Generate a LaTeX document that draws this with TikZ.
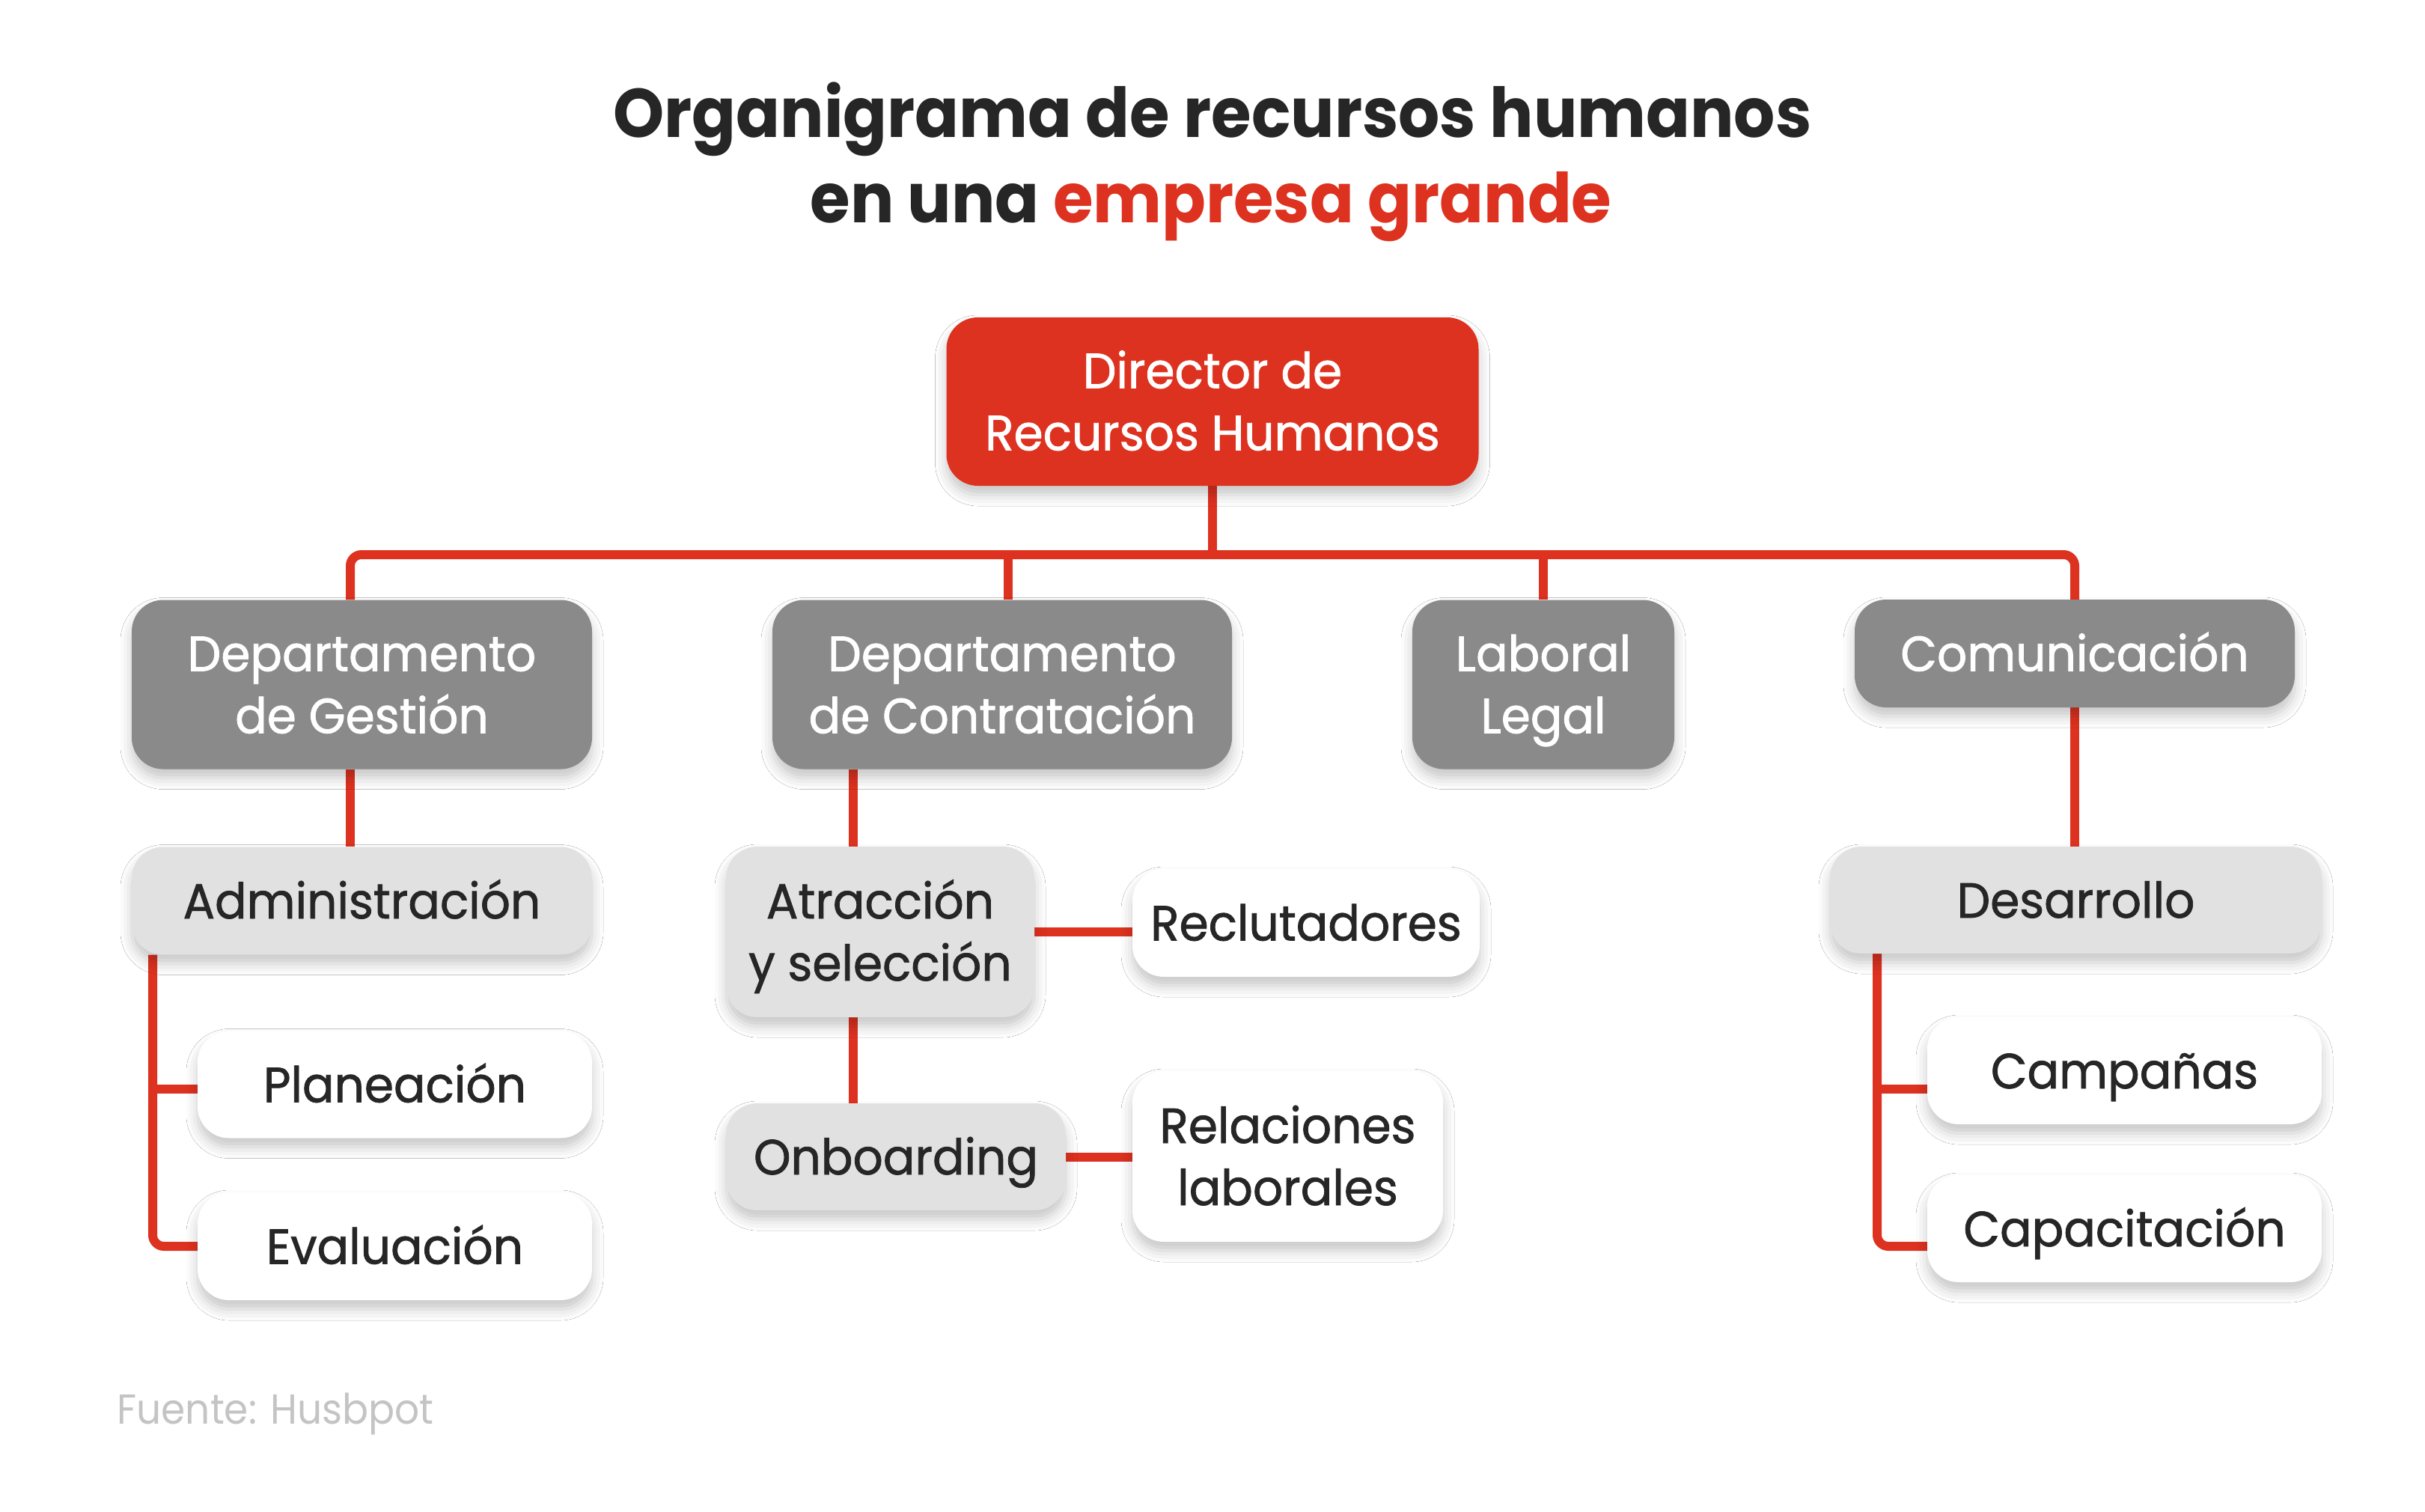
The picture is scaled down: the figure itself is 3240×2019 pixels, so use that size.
\documentclass[tikz,border=0pt]{standalone}
\usepackage{fontspec}
\setmainfont{Poppins}
\newfontfamily\nodefont{Poppins}[FakeStretch=0.955, FakeBold=1.2]
\newfontfamily\titlefont{Poppins}[FakeStretch=0.943]
\newfontfamily\footfont{Poppins}[FakeStretch=0.925]
\usetikzlibrary{shadows.blur,calc,backgrounds}
\definecolor{hr}{HTML}{DE3220}
\definecolor{dgray}{HTML}{8A8A8A}
\definecolor{lgray}{HTML}{E1E1E1}
\definecolor{ink}{HTML}{262626}
\definecolor{foot}{HTML}{C4C4C4}
\definecolor{shblue}{HTML}{7F8FBF}
\newcommand{\twol}[2]{\begin{tabular}[b]{@{}c@{}}#1\\#2\end{tabular}}
\begin{document}
\begin{tikzpicture}[x=1pt,y=-1pt,
  box/.style={rounded corners=42pt, inner sep=0pt,
    font=\nodefont\fontsize{66}{83}\selectfont, text height=47pt, text depth=0pt,
    blur shadow={shadow xshift=0pt, shadow yshift=-12pt, shadow blur radius=15pt, shadow opacity=22, fill=shblue}},
  two/.style={text height=130pt, text depth=0pt},
  sz/.style 2 args={minimum width=#1pt, minimum height=#2pt},
  redbox/.style={box, fill=hr, text=white},
  darkbox/.style={box, fill=dgray, text=white},
  lightbox/.style={box, fill=lgray, text=ink},
  whitebox/.style={box, fill=white, text=ink},
  conn/.style={draw=hr, line width=12pt},
]
\useasboundingbox (0,0) rectangle (3240,2019);

% title
\node[anchor=base, text=ink, font=\titlefont\fontsize{92}{114}\selectfont\bfseries] (t1) at (1620,183) {Organigrama de recursos humanos};
\node[anchor=base, text=ink, font=\titlefont\fontsize{92}{114}\selectfont\bfseries] (t2) at (1618,297) {en una \textcolor{hr}{empresa grande}};

% nodes
\node[redbox, two, sz={711}{225}] (dir) at (1620,536.5) {\twol{Director de}{Recursos Humanos}};
\node[darkbox, two, sz={615}{226}] (gest) at (483.5,914.5) {\twol{Departamento}{de Gestión}};
\node[darkbox, two, sz={614}{226}] (contr) at (1339,914.5) {\twol{Departamento}{de Contratación}};
\node[darkbox, two, sz={350}{226}] (lab) at (2062,914.5) {\twol{Laboral}{Legal}};
\node[darkbox, sz={588}{144}] (com) at (2772,873) {Comunicación};
\node[lightbox, sz={615}{144}] (adm) at (483.5,1203.5) {Administración};
\node[whitebox, sz={527}{143}] (plan) at (527.5,1449) {Planeación};
\node[whitebox, sz={527}{144}] (eval) at (527.5,1665) {Evaluación};
\node[lightbox, two, sz={412}{228}] (atr) at (1176,1245) {\twol{Atracción}{y selección}};
\node[whitebox, sz={464}{144}] (rec) at (1745,1233) {Reclutadores};
\node[lightbox, sz={454}{143}] (onb) at (1197,1545.5) {Onboarding};
\node[whitebox, two, sz={415}{228}] (rel) at (1720.5,1545) {\twol{Relaciones}{laborales}};
\node[lightbox, sz={657}{143}] (des) at (2773.5,1202.5) {Desarrollo};
\node[whitebox, sz={527}{143}] (camp) at (2838.5,1430.5) {Campañas};
\node[whitebox, sz={527}{143}] (capa) at (2838.5,1641.5) {Capacitación};

\node[anchor=base west, text=foot, font=\footfont\fontsize{56}{66}\selectfont] (src) at (153,1902) {Fuente: Husbpot};

% connectors
\coordinate (jL) at (468,741);
\coordinate (jR) at (2772,741);
\coordinate (jC) at (1347,741);
\coordinate (xA) at (1140,1100);
\coordinate (xG) at (204,1300);
\coordinate (xD) at (2508,1300);
\coordinate (cT) at (2508,1455);
\coordinate (pT) at (204,1455);
\coordinate (kT) at (2508,1665);
\begin{scope}[on background layer]
\fill[white] (0,0) rectangle (3240,2019);
\draw[conn] (dir.south) -- (dir.south |- jL);
\draw[conn, rounded corners=15pt] (gest.north -| jL) -- (jL) -- (jR) -- (com.north -| jR);
\draw[conn] (jC) -- (contr.north -| jC);
\draw[conn] (lab.north |- jL) -- (lab.north);
\draw[conn] (gest.south -| jL) -- (adm.north -| jL);
\draw[conn] (contr.south -| xA) -- (atr.north -| xA);
\draw[conn] (atr.south -| xA) -- (onb.north -| xA);
\draw[conn] (atr.east) -- (atr.east -| rec.west);
\draw[conn] (onb.east) -- (onb.east -| rel.west);
\draw[conn] (com.south -| jR) -- (des.north -| jR);
\draw[conn, rounded corners=15pt] (adm.south -| xG) |- (eval.west);
\draw[conn] (pT) -- (pT -| plan.west);
\draw[conn, rounded corners=15pt] (des.south -| xD) |- (kT -| capa.west);
\draw[conn] (cT) -- (cT -| camp.west);
\end{scope}
\end{tikzpicture}
\end{document}
